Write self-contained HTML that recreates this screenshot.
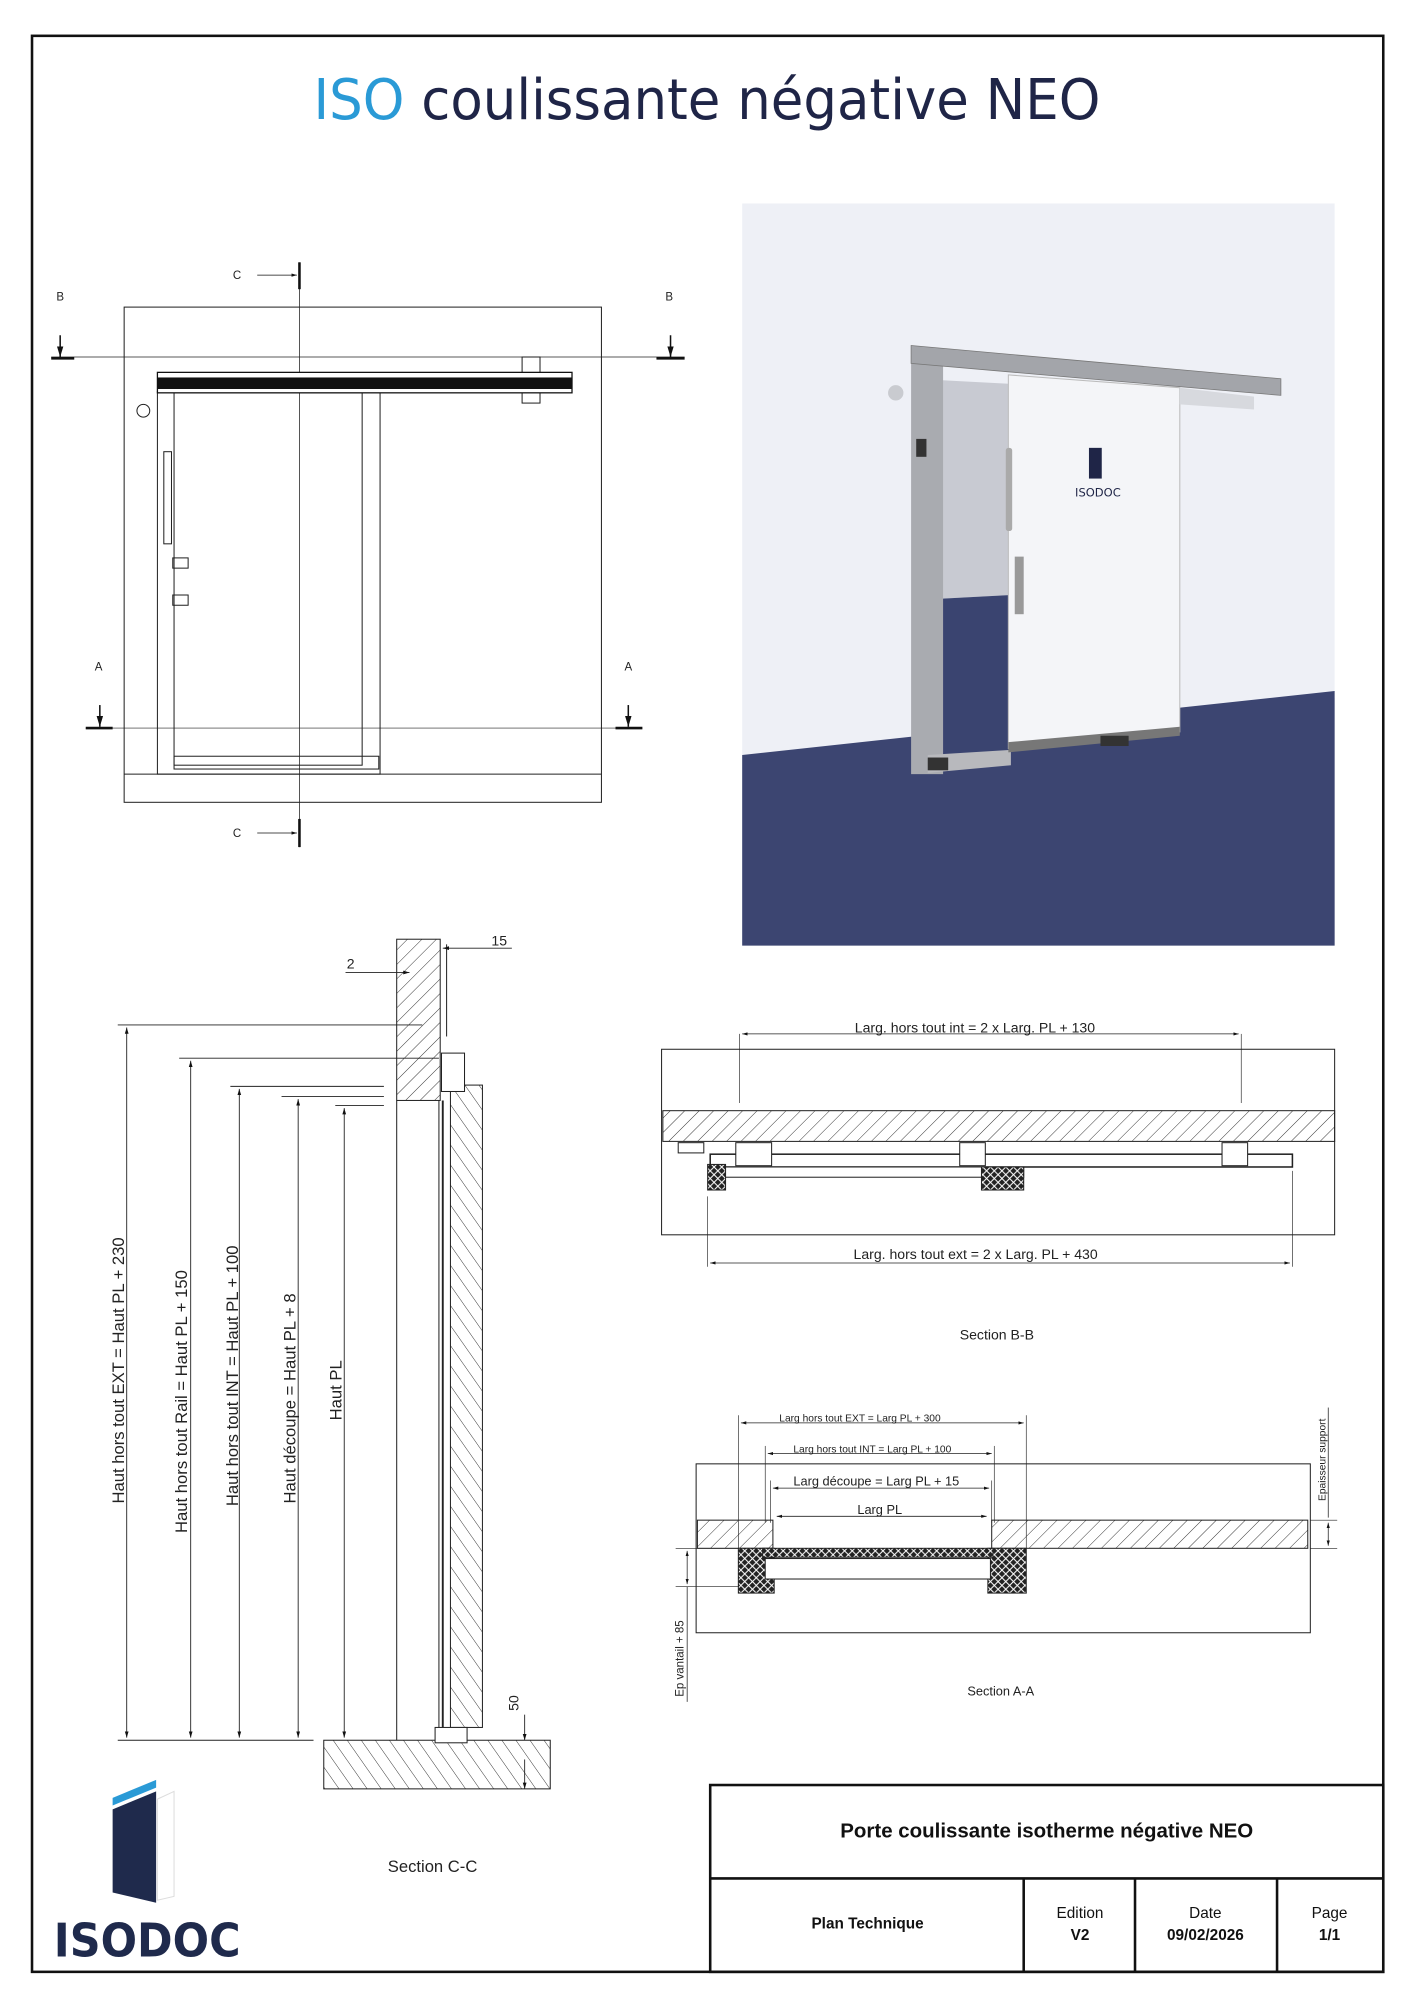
<!DOCTYPE html>
<html><head><meta charset="utf-8"><style>html,body{margin:0;padding:0;background:#fff}svg{display:block}</style></head>
<body>
<svg width="1414" height="2000" viewBox="0 0 1105 1563" xmlns="http://www.w3.org/2000/svg" font-family="Liberation Sans, sans-serif">
<defs>
<pattern id="h" width="8" height="8" patternUnits="userSpaceOnUse" patternTransform="rotate(45)"><line x1="0" y1="0" x2="0" y2="8" stroke="#222" stroke-width="0.7"/></pattern>
<pattern id="h2" width="9" height="9" patternUnits="userSpaceOnUse" patternTransform="rotate(-35)"><line x1="0" y1="0" x2="0" y2="9" stroke="#222" stroke-width="0.7"/></pattern>
<pattern id="x" width="6" height="6" patternUnits="userSpaceOnUse"><rect width="6" height="6" fill="#222"/><path d="M0 0L6 6M6 0L0 6" stroke="#fff" stroke-width="0.8"/></pattern>
<marker id="a" viewBox="0 0 10 10" refX="10" refY="5" markerWidth="7" markerHeight="7" orient="auto-start-reverse"><path d="M0 2L10 5L0 8z" fill="#111"/></marker>
</defs>
<rect x="25" y="28" width="1056" height="1513" fill="none" stroke="#111" stroke-width="2"/>
<text x="245" y="93" font-size="44" fill="#1f2547" font-family="DejaVu Sans, sans-serif" textLength="615" lengthAdjust="spacingAndGlyphs"><tspan fill="#2a9ad6">ISO</tspan> coulissante négative NEO</text>

<!-- Front elevation -->
<g stroke="#222" fill="none" stroke-width="0.8">
<rect x="97" y="240" width="373" height="387"/>
<line x1="97" y1="605" x2="470" y2="605"/>
<line x1="40" y1="279" x2="535" y2="279" stroke-width="0.5"/>
<line x1="67" y1="569" x2="502" y2="569" stroke-width="0.5"/>
<line x1="234" y1="205" x2="234" y2="662" stroke-width="0.6"/>
<rect x="123" y="306" width="174" height="299"/>
<rect x="136" y="307" width="147" height="291"/>
<rect x="136" y="591" width="160" height="10"/>
<rect x="408" y="279" width="14" height="36"/>
<circle cx="112" cy="321" r="5"/>
<rect x="128" y="353" width="6" height="72"/>
<rect x="135" y="436" width="12" height="8"/><rect x="135" y="465" width="12" height="8"/>
</g>
<rect x="123" y="291" width="324" height="16" fill="#fff" stroke="#111"/>
<rect x="123" y="295" width="324" height="9" fill="#111"/>
<g font-size="9" fill="#222"><text x="44" y="235">B</text><text x="520" y="235">B</text><text x="74" y="524">A</text><text x="488" y="524">A</text><text x="182" y="218">C</text><text x="182" y="654">C</text></g>
<g stroke="#111" stroke-width="1.2">
<line x1="47" y1="262" x2="47" y2="279" marker-end="url(#a)"/><line x1="40" y1="280" x2="58" y2="280" stroke-width="2"/>
<line x1="524" y1="262" x2="524" y2="279" marker-end="url(#a)"/><line x1="513" y1="280" x2="535" y2="280" stroke-width="2"/>
<line x1="78" y1="551" x2="78" y2="568" marker-end="url(#a)"/><line x1="67" y1="569" x2="88" y2="569" stroke-width="2"/>
<line x1="491" y1="551" x2="491" y2="568" marker-end="url(#a)"/><line x1="481" y1="569" x2="502" y2="569" stroke-width="2"/>
<line x1="201" y1="215" x2="232" y2="215" stroke-width="0.6" marker-end="url(#a)"/><line x1="234" y1="205" x2="234" y2="226" stroke-width="2"/>
<line x1="201" y1="651" x2="232" y2="651" stroke-width="0.6" marker-end="url(#a)"/><line x1="234" y1="640" x2="234" y2="662" stroke-width="2"/>
</g>

<!-- Photo -->
<rect x="580" y="159" width="463" height="580" fill="#eef0f6"/>
<polygon points="580,590 1043,540 1043,739 580,739" fill="#3c4571"/>
<polygon points="733,297 790,300 790,465 733,468" fill="#c8cad2"/>
<polygon points="733,468 790,465 790,590 733,595" fill="#3a4470"/>
<polygon points="712,283 737,283 737,605 712,605" fill="#a9abb0"/>
<polygon points="725,590 790,586 790,598 725,604" fill="#b8b9bd"/>
<polygon points="788,293 922,303 922,572 788,585" fill="#f4f5f8" stroke="#bbb" stroke-width="0.8"/>
<polygon points="788,580 922,568 922,575 788,588" fill="#777"/>
<polygon points="922,303 980,310 980,320 922,316" fill="#d7d9de"/>
<polygon points="712,270 1001,296 1001,309 712,284" fill="#a3a5aa" stroke="#777" stroke-width="0.6"/>
<circle cx="700" cy="307" r="6" fill="#c9cbd0"/>
<rect x="716" y="343" width="8" height="14" fill="#333"/>
<rect x="786" y="350" width="5" height="65" fill="#aaa" rx="2"/>
<rect x="793" y="435" width="7" height="45" fill="#999"/>
<rect x="851" y="350" width="10" height="24" fill="#1f2547"/>
<text x="858" y="388" font-size="9" fill="#1f2547" text-anchor="middle" font-family="DejaVu Sans,sans-serif">ISODOC</text>
<rect x="860" y="575" width="22" height="8" fill="#333"/><rect x="725" y="592" width="16" height="10" fill="#333"/>

<!-- Section C-C -->
<g stroke="#222" stroke-width="0.8">
<rect x="310" y="734" width="34" height="126" fill="url(#h)"/>
<rect x="352" y="848" width="25" height="502" fill="url(#h2)"/>
<rect x="253" y="1360" width="177" height="38" fill="url(#h2)"/>
<line x1="310" y1="860" x2="310" y2="1360"/>
<line x1="343" y1="860" x2="343" y2="1360"/>
<line x1="346" y1="860" x2="346" y2="1350" stroke-width="1.5"/>
<rect x="345" y="823" width="18" height="30" fill="#fff"/>
<rect x="340" y="1350" width="25" height="12" fill="#fff"/>
<line x1="349" y1="738" x2="349" y2="810"/>
</g>
<g stroke="#222" stroke-width="0.7" fill="none">
<line x1="92" y1="801" x2="330" y2="801"/><line x1="140" y1="827" x2="343" y2="827"/>
<line x1="180" y1="849" x2="300" y2="849"/><line x1="220" y1="857" x2="300" y2="857"/><line x1="262" y1="864" x2="300" y2="864"/>
<line x1="92" y1="1360" x2="245" y2="1360"/>
<line x1="99" y1="803" x2="99" y2="1358" marker-start="url(#a)" marker-end="url(#a)"/>
<line x1="149" y1="829" x2="149" y2="1358" marker-start="url(#a)" marker-end="url(#a)"/>
<line x1="187" y1="851" x2="187" y2="1358" marker-start="url(#a)" marker-end="url(#a)"/>
<line x1="233" y1="859" x2="233" y2="1358" marker-start="url(#a)" marker-end="url(#a)"/>
<line x1="269" y1="866" x2="269" y2="1358" marker-start="url(#a)" marker-end="url(#a)"/>
<line x1="270" y1="760" x2="320" y2="760" marker-end="url(#a)"/>
<line x1="400" y1="741" x2="346" y2="741" marker-end="url(#a)"/>
<line x1="410" y1="1340" x2="410" y2="1360" marker-end="url(#a)"/><line x1="410" y1="1398" x2="410" y2="1375" marker-start="url(#a)"/>
</g>
<g font-size="13" fill="#222">
<text transform="translate(97,1175) rotate(-90)">Haut hors tout EXT = Haut PL + 230</text>
<text transform="translate(146,1198) rotate(-90)">Haut hors tout Rail = Haut PL + 150</text>
<text transform="translate(186,1177) rotate(-90)">Haut hors tout INT = Haut PL + 100</text>
<text transform="translate(231,1175) rotate(-90)">Haut découpe = Haut PL + 8</text>
<text transform="translate(267,1110) rotate(-90)">Haut PL</text>
<text transform="translate(405,1337) rotate(-90)" font-size="11">50</text>
<text x="271" y="757" font-size="11">2</text><text x="384" y="739" font-size="11">15</text>
<text x="303" y="1463">Section C-C</text>
</g>

<!-- Section B-B -->
<g stroke="#222" stroke-width="0.8">
<rect x="517" y="820" width="526" height="145" fill="none"/>
<rect x="518" y="868" width="525" height="24" fill="url(#h)"/>
<line x1="578" y1="808" x2="578" y2="862" stroke-width="0.5"/><line x1="970" y1="808" x2="970" y2="862" stroke-width="0.5"/>
<line x1="553" y1="935" x2="553" y2="990" stroke-width="0.5"/><line x1="1010" y1="915" x2="1010" y2="990" stroke-width="0.5"/>
<line x1="580" y1="808" x2="968" y2="808" marker-start="url(#a)" marker-end="url(#a)" stroke-width="0.6"/>
<line x1="555" y1="987" x2="1008" y2="987" marker-start="url(#a)" marker-end="url(#a)" stroke-width="0.6"/>
<rect x="555" y="902" width="455" height="10" fill="#fff" stroke-width="1.2"/>
<rect x="565" y="912" width="235" height="8" fill="#fff"/>
<rect x="553" y="910" width="14" height="20" fill="url(#x)"/><rect x="767" y="912" width="33" height="18" fill="url(#x)"/>
<rect x="575" y="893" width="28" height="18" fill="#fff"/><rect x="750" y="893" width="20" height="18" fill="#fff"/><rect x="955" y="893" width="20" height="18" fill="#fff"/>
<rect x="530" y="893" width="20" height="8" fill="#fff"/>
</g>
<g font-size="11" fill="#222"><text x="668" y="807">Larg. hors tout int = 2 x Larg. PL + 130</text><text x="667" y="984">Larg. hors tout ext = 2 x Larg. PL + 430</text><text x="750" y="1047">Section B-B</text></g>

<!-- Section A-A -->
<g stroke="#222" stroke-width="0.8">
<rect x="544" y="1144" width="480" height="132" fill="none"/>
<rect x="545" y="1188" width="59" height="22" fill="url(#h)"/>
<rect x="775" y="1188" width="247" height="22" fill="url(#h)"/>
<rect x="577" y="1210" width="28" height="35" fill="url(#x)"/>
<rect x="772" y="1210" width="30" height="35" fill="url(#x)"/>
<rect x="596" y="1210" width="180" height="7" fill="url(#x)"/>
<rect x="598" y="1218" width="176" height="16" fill="#fff"/>
<g stroke-width="0.5"><line x1="577" y1="1106" x2="577" y2="1210"/><line x1="802" y1="1106" x2="802" y2="1210"/>
<line x1="598" y1="1130" x2="598" y2="1190"/><line x1="777" y1="1130" x2="777" y2="1190"/>
<line x1="602" y1="1157" x2="602" y2="1190"/><line x1="775" y1="1157" x2="775" y2="1190"/>
<line x1="528" y1="1210" x2="577" y2="1210"/><line x1="528" y1="1240" x2="577" y2="1240"/>
<line x1="1024" y1="1188" x2="1045" y2="1188"/><line x1="1024" y1="1210" x2="1045" y2="1210"/></g>
<g stroke-width="0.6">
<line x1="579" y1="1112" x2="800" y2="1112" marker-start="url(#a)" marker-end="url(#a)"/>
<line x1="600" y1="1136" x2="775" y2="1136" marker-start="url(#a)" marker-end="url(#a)"/>
<line x1="604" y1="1163" x2="773" y2="1163" marker-start="url(#a)" marker-end="url(#a)"/>
<line x1="607" y1="1185" x2="771" y2="1185" marker-start="url(#a)" marker-end="url(#a)"/>
<line x1="537" y1="1212" x2="537" y2="1238" marker-start="url(#a)" marker-end="url(#a)"/>
<line x1="537" y1="1240" x2="537" y2="1330"/>
<line x1="1038" y1="1100" x2="1038" y2="1186"/>
<line x1="1038" y1="1190" x2="1038" y2="1208" marker-start="url(#a)" marker-end="url(#a)"/>
</g></g>
<g fill="#222"><text x="609" y="1111" font-size="8">Larg hors tout EXT = Larg PL + 300</text><text x="620" y="1135" font-size="8">Larg hors tout INT = Larg PL + 100</text>
<text x="620" y="1161" font-size="10">Larg découpe = Larg PL + 15</text><text x="670" y="1183" font-size="10">Larg PL</text>
<text transform="translate(534,1326) rotate(-90)" font-size="9">Ep vantail + 85</text>
<text transform="translate(1036,1173) rotate(-90)" font-size="8">Epaisseur support</text>
<text x="756" y="1325" font-size="10">Section A-A</text></g>

<!-- Title block -->
<g stroke="#111" stroke-width="2" fill="none"><rect x="555" y="1395" width="526" height="146"/><line x1="555" y1="1468" x2="1081" y2="1468"/><line x1="800" y1="1468" x2="800" y2="1541"/><line x1="887" y1="1468" x2="887" y2="1541"/><line x1="998" y1="1468" x2="998" y2="1541"/></g>
<g fill="#111" text-anchor="middle"><text x="818" y="1436" font-size="16" font-weight="bold">Porte coulissante isotherme négative NEO</text>
<text x="678" y="1507" font-size="12" font-weight="bold">Plan Technique</text>
<text x="844" y="1499" font-size="12">Edition</text><text x="844" y="1516" font-size="12" font-weight="bold">V2</text>
<text x="942" y="1499" font-size="12">Date</text><text x="942" y="1516" font-size="12" font-weight="bold">09/02/2026</text>
<text x="1039" y="1499" font-size="12">Page</text><text x="1039" y="1516" font-size="12" font-weight="bold">1/1</text></g>

<!-- Logo -->
<polygon points="88,1405 122,1391 122,1397 88,1411" fill="#2a9ad6"/>
<polygon points="88,1414 122,1400 122,1487 88,1479" fill="#1f2a4c"/>
<polygon points="123,1406 136,1400 136,1482 123,1485" fill="none" stroke="#ddd" stroke-width="0.8"/>
<text x="42" y="1529" font-size="36" font-weight="bold" fill="#1f2a4c" font-family="DejaVu Sans, sans-serif" textLength="146" lengthAdjust="spacingAndGlyphs">ISODOC</text>
</svg>
</body></html>
